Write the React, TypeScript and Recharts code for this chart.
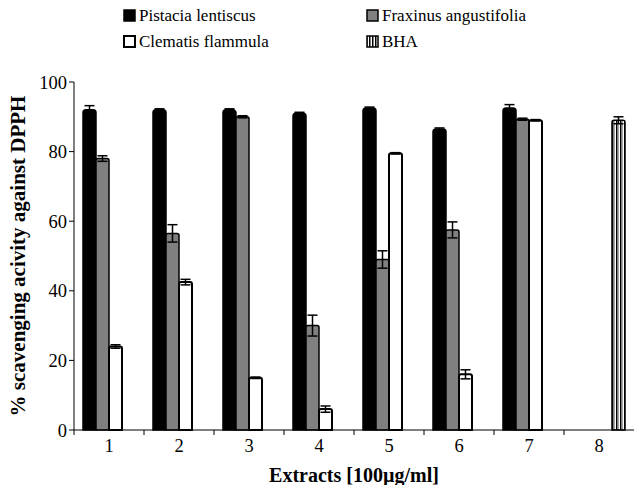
import React from 'react';
import { BarChart, Bar, XAxis, YAxis, ErrorBar, Legend, Label } from 'recharts';

const categories = ['1', '2', '3', '4', '5', '6', '7', '8'];
const pistacia = [92, 92, 92, 91, 92.5, 86.5, 92.5, null];
const pistaciaErr = [1.2, 0.3, 0.3, 0.3, 0.3, 0.3, 1, null];
const fraxinus = [78, 56.5, 90, 30, 49, 57.5, 89.3, null];
const fraxinusErr = [0.8, 2.5, 0.3, 3, 2.5, 2.3, 0.3, null];
const clematis = [24, 42.5, 15, 6, 79.5, 16, 89, null];
const clematisErr = [0.5, 0.8, 0.2, 0.9, 0.2, 1.3, 0.2, null];
const bha = [null, null, null, null, null, null, null, 89];
const bhaErr = [null, null, null, null, null, null, null, 1];
const yTicks = [0, 20, 40, 60, 80, 100];

const seriesNames = ['Pistacia lentiscus', 'Fraxinus angustifolia', 'Clematis flammula', 'BHA'];

const data = categories.map((c, i) => ({
  name: c,
  p: pistacia[i],
  pe: pistaciaErr[i],
  f: fraxinus[i],
  fe: fraxinusErr[i],
  c: clematis[i],
  ce: clematisErr[i],
  b: bha[i],
  be: bhaErr[i],
}));

const FONT = "'Liberation Serif', serif";

const Swatch = ({ kind }: { kind: number }) => {
  const common = { width: 11, height: 11, x: 1, y: 1, stroke: '#000', strokeWidth: 1.5 };
  return (
    <svg width={13} height={13} style={{ display: 'block' }}>
      <defs>
        <pattern id="lg-stripes" width={3} height={4} patternUnits="userSpaceOnUse">
          <rect x={0} y={0} width={3} height={4} fill="#fff" />
          <rect x={0} y={0} width={1.5} height={4} fill="#000" />
        </pattern>
      </defs>
      {kind === 0 && <rect {...common} fill="#000" />}
      {kind === 1 && <rect {...common} fill="#808080" />}
      {kind === 2 && <rect {...common} fill="#fff" strokeWidth={2} />}
      {kind === 3 && <rect {...common} fill="url(#lg-stripes)" />}
    </svg>
  );
};

const renderLegend = () => {
  const pos = [
    { left: 123, top: 6 },
    { left: 366, top: 6 },
    { left: 123, top: 32 },
    { left: 366, top: 32 },
  ];
  return (
    <div style={{ position: 'relative', width: 634, height: 60 }}>
      {seriesNames.map((n, i) => (
        <div
          key={n}
          style={{
            position: 'absolute',
            left: pos[i].left,
            top: pos[i].top,
            display: 'flex',
            alignItems: 'center',
            gap: 3,
            fontFamily: FONT,
            fontSize: 17,
            lineHeight: '19px',
            color: '#000',
            whiteSpace: 'nowrap',
          }}
        >
          <Swatch kind={i} />
          <span>{n}</span>
        </div>
      ))}
    </div>
  );
};

const XTick = (props: any) => {
  const { x, y, payload, width } = props;
  const half = (width || 560) / categories.length / 2;
  return (
    <g>
      <line x1={x - half} y1={y - 8} x2={x - half} y2={y - 3} stroke="#000" strokeWidth={1} />
      <text x={x} y={y + 14} textAnchor="middle" style={{ fontFamily: FONT, fontSize: 18.5 }} fill="#000">
        {payload.value}
      </text>
    </g>
  );
};

export default function App() {
  return (
    <div style={{ position: 'absolute', left: 0, top: 0, background: '#fff' }}>
      <BarChart
        width={634}
        height={485}
        data={data}
        margin={{ top: 22, right: 0, bottom: 0, left: 24 }}
        barCategoryGap={9}
        barGap={0}
      >
        <defs>
          <pattern id="bha-stripes" width={4} height={4} patternUnits="userSpaceOnUse">
            <rect x={0} y={0} width={4} height={4} fill="#fff" />
            <rect x={0} y={0} width={1.5} height={4} fill="#000" />
            <rect x={1.5} y={0} width={1.2} height={4} fill="#808080" />
          </pattern>
        </defs>
        <Legend verticalAlign="top" align="left" content={renderLegend} wrapperStyle={{ top: 0, left: 0, height: 60 }} />
        <XAxis
          dataKey="name"
          height={55}
          axisLine={{ stroke: '#000', strokeWidth: 1 }}
          tickLine={false}
          tick={<XTick />}
          interval={0}
        >
          <Label
            value="Extracts [100µg/ml]"
            position="insideBottom"
            offset={3}
            style={{ fontFamily: FONT, fontSize: 20, fontWeight: 'bold', fill: '#000' }}
          />
        </XAxis>
        <YAxis
          width={50}
          domain={[0, 100]}
          ticks={yTicks}
          interval={0}
          axisLine={{ stroke: '#000', strokeWidth: 1 }}
          tickLine={{ stroke: '#000', strokeWidth: 1 }}
          tickSize={5}
          tick={{ fontFamily: FONT, fontSize: 18.5, fill: '#000' }}
        >
          <Label
            value="% scavenging acivity against DPPH"
            angle={-90}
            position="insideLeft"
            offset={-6}
            style={{ textAnchor: 'middle', fontFamily: FONT, fontSize: 21, fontWeight: 'bold', fill: '#000' }}
          />
        </YAxis>
        <Bar dataKey="p" name={seriesNames[0]} fill="#000" stroke="#000" strokeWidth={1.5} radius={[3, 3, 0, 0]} isAnimationActive={false}>
          <ErrorBar dataKey="pe" width={5} stroke="#000" strokeWidth={1.5} direction="y" />
        </Bar>
        <Bar dataKey="f" name={seriesNames[1]} fill="#808080" stroke="#000" strokeWidth={1.5} radius={[2, 2, 0, 0]} isAnimationActive={false}>
          <ErrorBar dataKey="fe" width={5} stroke="#000" strokeWidth={1.5} direction="y" />
        </Bar>
        <Bar dataKey="c" name={seriesNames[2]} fill="#fff" stroke="#000" strokeWidth={2} radius={[2, 2, 0, 0]} isAnimationActive={false}>
          <ErrorBar dataKey="ce" width={5} stroke="#000" strokeWidth={1.5} direction="y" />
        </Bar>
        <Bar dataKey="b" name={seriesNames[3]} fill="url(#bha-stripes)" stroke="#000" strokeWidth={1.5} radius={[2, 2, 0, 0]} isAnimationActive={false}>
          <ErrorBar dataKey="be" width={5} stroke="#000" strokeWidth={1.5} direction="y" />
        </Bar>
      </BarChart>
    </div>
  );
}
